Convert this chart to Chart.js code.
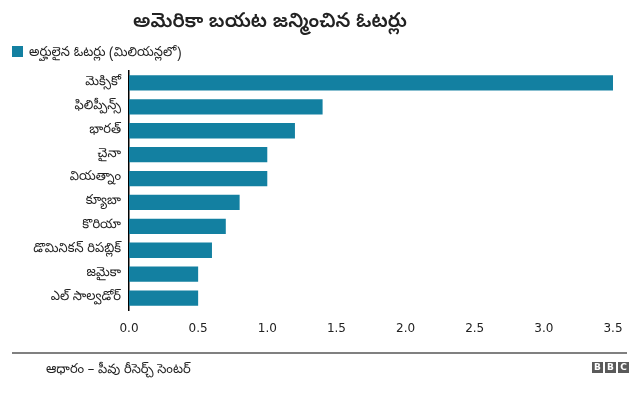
<!DOCTYPE html>
<html>
<head>
<meta charset="utf-8">
<script src="https://cdn.jsdelivr.net/npm/chart.js@4.4.1/dist/chart.umd.min.js"></script>
<style>
  body { margin: 0; background: #fff; }
  #wrap { position: relative; width: 640px; height: 393px; overflow: hidden; font-family: "Noto Sans Telugu", "Noto Sans", sans-serif; color: #222; }
  #graph { position: absolute; left: 0; top: 0; }
  .titulo { position: absolute; left: 133px; top: 10px; font-size: 20px; font-weight: 600; white-space: nowrap; }
  .leyenda { position: absolute; left: 12px; top: 45px; font-size: 13px; white-space: nowrap; }
  .leyenda span.caja { display: inline-block; width: 11px; height: 11px; background: #1380A1; vertical-align: -1px; margin-right: 6px; }
  .linea { position: absolute; left: 12px; width: 615px; top: 352px; height: 2px; background: #808080; }
  .fuente { position: absolute; left: 46px; top: 362px; font-size: 13px; white-space: nowrap; }
  .bbc { position: absolute; left: 592px; top: 362px; display: flex; gap: 2px; }
  .bbc span { display: block; width: 11px; height: 11px; background: #5a5a5a; color: #fff; font: bold 9px "DejaVu Sans", sans-serif; text-align: center; line-height: 11px; }
</style>
</head>
<body>
<div id="wrap">
  <canvas id="graph" width="640" height="393"></canvas>
  <div class="titulo">అమెరికా బయట జన్మించిన ఓటర్లు</div>
  <div class="leyenda"><span class="caja"></span>అర్హులైన ఓటర్లు (మిలియన్లలో)</div>
  <div class="linea"></div>
  <div class="fuente">ఆధారం – పీవు రీసెర్చ్ సెంటర్</div>
  <div class="bbc"><span>B</span><span>B</span><span>C</span></div>
</div>
<script>
//Datos
const paises = ['మెక్సికో', 'ఫిలిప్పీన్స్', 'భారత్', 'చైనా', 'వియత్నాం', 'క్యూబా', 'కొరియా', 'డొమినికన్ రిపబ్లిక్', 'జమైకా', 'ఎల్ సాల్వడోర్'];
const votantes = [3.5, 1.4, 1.2, 1.0, 1.0, 0.8, 0.7, 0.6, 0.5, 0.5];
const nombreSerie = 'అర్హులైన ఓటర్లు (మిలియన్లలో)';
const ticksX = [0, 0.5, 1.0, 1.5, 2.0, 2.5, 3.0, 3.5];

const fuenteTelugu = '"Noto Sans Telugu", "Noto Sans", sans-serif';

const config = {
    type: 'bar',
    data: {
        labels: paises,
        datasets: [{
            label: nombreSerie,
            data: votantes,
            backgroundColor: '#1380A1',
            barPercentage: 0.64,
            categoryPercentage: 1.0
        }]
    },
    options: {
        indexAxis: 'y',
        responsive: false,
        animation: false,
        layout: { padding: { left: 0, right: 27, top: 71, bottom: 53 } },
        plugins: {
            legend: { display: false },
            tooltip: { enabled: false }
        },
        scales: {
            x: {
                min: 0,
                max: 3.5,
                grid: { display: false, drawTicks: false },
                border: { display: false },
                afterBuildTicks: scale => { scale.ticks = ticksX.map(v => ({ value: v })); },
                afterFit: scale => { scale.height = 30; },
                ticks: {
                    color: '#222',
                    padding: 12,
                    font: { family: '"DejaVu Sans", sans-serif', size: 12 },
                    callback: v => Number(v).toFixed(1)
                }
            },
            y: {
                grid: { display: false, drawTicks: false },
                border: { display: true, color: '#000', width: 1.5 },
                afterFit: scale => { scale.width = 129; },
                ticks: {
                    color: '#222',
                    padding: 8,
                    font: { family: fuenteTelugu, size: 13 }
                }
            }
        }
    }
};

new Chart(document.querySelector('#graph'), config);//Crea grafico de barras
</script>
</body>
</html>
